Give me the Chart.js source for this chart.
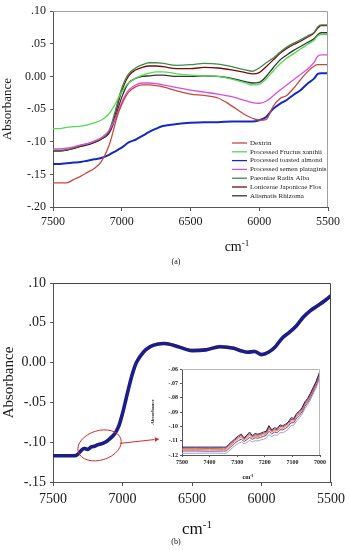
<!DOCTYPE html>
<html><head><meta charset="utf-8">
<script src="https://cdn.jsdelivr.net/npm/chart.js@4.4.0/dist/chart.umd.min.js"></script>
<style>
html,body{margin:0;padding:0;background:#fff;width:350px;height:550px;overflow:hidden;font-family:"Liberation Serif",serif;}
.box{position:absolute;}
.lbl{position:absolute;transform:translate(-50%,-50%);white-space:nowrap;color:#111;line-height:1;}
.sup{position:relative;top:-0.55em;font-size:0.65em;}
</style></head>
<body>
<div class="box" style="left:0;top:0;width:350px;height:270px"><canvas id="cA" width="350" height="270"></canvas></div>
<div class="box" style="left:0;top:270px;width:350px;height:280px"><canvas id="cB" width="350" height="280"></canvas></div>
<div class="box" style="left:150px;top:360px;width:185px;height:125px"><canvas id="cC" width="185" height="125"></canvas></div>
<div class="lbl" style="left:237px;top:247px;font-size:14px">cm<span class="sup">-1</span></div>
<div class="lbl" style="left:176px;top:262px;font-size:8px">(a)</div>
<div class="lbl" style="left:197px;top:528px;font-size:17px">cm<span class="sup">-1</span></div>
<div class="lbl" style="left:176px;top:542px;font-size:8px">(b)</div>
<div class="lbl" style="left:248px;top:477px;font-size:6px;font-weight:bold">cm<span class="sup">-1</span></div>
<script>
// ---------- Panel (a) data ----------
const xA = [7500,7450,7400,7350,7300,7250,7200,7150,7100,7075,7050,7025,7000,6975,6950,6900,6850,6800,6750,6700,6600,6500,6400,6300,6200,6100,6050,6000,5950,5900,5850,5800,5750,5700,5650,5600,5575,5550,5500];
const seriesNamesA = ['Dextrin','Processed Fructus xanthii','Processed toasted almond','Processed semen plataginis','Paeoniae Radix Alba','Lonicerae Japonicae Flos','Alismatis Rhizoma'];
const dextrin = [-0.163,-0.163,-0.163,-0.158,-0.153,-0.147,-0.141,-0.131,-0.110,-0.094,-0.074,-0.056,-0.043,-0.032,-0.024,-0.016,-0.013,-0.013,-0.014,-0.016,-0.022,-0.027,-0.029,-0.033,-0.045,-0.059,-0.064,-0.067,-0.066,-0.046,-0.034,-0.029,-0.018,-0.005,0.007,0.016,0.018,0.018,0.018];
const fructus = [-0.080,-0.080,-0.078,-0.077,-0.076,-0.074,-0.071,-0.067,-0.059,-0.052,-0.043,-0.033,-0.024,-0.016,-0.010,-0.003,0.002,0.005,0.007,0.007,0.004,0.002,0.001,0.000,-0.004,-0.010,-0.013,-0.012,-0.004,0.008,0.019,0.028,0.035,0.042,0.049,0.056,0.062,0.064,0.064];
const almond = [-0.134,-0.134,-0.133,-0.132,-0.131,-0.129,-0.127,-0.125,-0.121,-0.118,-0.115,-0.112,-0.109,-0.105,-0.101,-0.097,-0.091,-0.085,-0.080,-0.076,-0.073,-0.071,-0.070,-0.070,-0.069,-0.069,-0.069,-0.067,-0.062,-0.050,-0.042,-0.036,-0.028,-0.021,-0.011,-0.003,0.004,0.005,0.005];
const semen = [-0.111,-0.111,-0.110,-0.108,-0.105,-0.103,-0.099,-0.094,-0.085,-0.077,-0.066,-0.053,-0.040,-0.029,-0.021,-0.013,-0.010,-0.010,-0.011,-0.013,-0.017,-0.021,-0.024,-0.027,-0.031,-0.037,-0.040,-0.041,-0.038,-0.030,-0.021,-0.013,-0.005,0.003,0.011,0.022,0.031,0.033,0.033];
const paeoniae = [-0.113,-0.113,-0.112,-0.109,-0.106,-0.103,-0.100,-0.095,-0.086,-0.073,-0.055,-0.035,-0.018,-0.005,0.004,0.013,0.018,0.021,0.021,0.020,0.017,0.018,0.020,0.019,0.015,0.010,0.008,0.013,0.021,0.028,0.037,0.045,0.051,0.056,0.062,0.068,0.076,0.079,0.079];
const lonicerae = [-0.114,-0.114,-0.113,-0.110,-0.107,-0.104,-0.101,-0.096,-0.088,-0.077,-0.060,-0.040,-0.022,-0.009,0.001,0.010,0.014,0.016,0.016,0.015,0.012,0.012,0.014,0.013,0.010,0.006,0.004,0.006,0.015,0.025,0.035,0.043,0.049,0.054,0.060,0.067,0.074,0.078,0.078];
const alismatis = [-0.114,-0.114,-0.113,-0.110,-0.107,-0.105,-0.101,-0.096,-0.089,-0.080,-0.066,-0.048,-0.032,-0.019,-0.010,-0.003,0.000,0.001,0.002,0.002,0.000,0.000,0.001,0.000,-0.003,-0.008,-0.010,-0.009,0.000,0.013,0.025,0.033,0.040,0.046,0.052,0.058,0.064,0.067,0.067];
const yTicksA = [0.10,0.05,0,-0.05,-0.10,-0.15,-0.20];
const yLabelsA = ['.10','.05','0.00','-.05','-.10','-.15','-.20'];

// ---------- Panel (b) data ----------
const xB = [7500,7400,7340,7320,7300,7275,7250,7225,7200,7175,7150,7125,7100,7075,7050,7025,7000,6975,6950,6925,6900,6850,6800,6750,6700,6600,6500,6400,6300,6200,6150,6100,6050,6000,5950,5900,5850,5800,5750,5700,5650,5600,5550,5500];
const specB1 = [-0.117,-0.117,-0.117,-0.115,-0.111,-0.108,-0.109,-0.106,-0.105,-0.103,-0.102,-0.100,-0.097,-0.093,-0.088,-0.079,-0.064,-0.046,-0.028,-0.012,0.000,0.013,0.020,0.023,0.024,0.020,0.015,0.016,0.020,0.018,0.015,0.013,0.014,0.010,0.013,0.020,0.031,0.038,0.046,0.057,0.065,0.071,0.077,0.084];
const specB2 = [-0.1155,-0.1157,-0.1154,-0.1136,-0.1093,-0.1062,-0.1075,-0.1044,-0.1036,-0.1013,-0.1006,-0.0984,-0.0956,-0.0914,-0.0866,-0.0773,-0.0626,-0.0444,-0.0266,-0.0104,0.0016,0.0144,0.0216,0.0246,0.0254,0.0214,0.0166,0.0174,0.0216,0.0194,0.0166,0.0144,0.0156,0.0114,0.0146,0.0214,0.0326,0.0394,0.0476,0.0584,0.0666,0.0724,0.0786,0.0854];
const specB3 = [-0.1165,-0.1163,-0.1166,-0.1148,-0.1104,-0.1072,-0.1081,-0.1053,-0.1044,-0.1022,-0.1012,-0.0992,-0.0962,-0.0924,-0.0874,-0.0784,-0.0634,-0.0455,-0.0272,-0.0112,0.0008,0.0138,0.0208,0.0238,0.0249,0.0207,0.0157,0.0168,0.0206,0.0187,0.0156,0.0137,0.0146,0.0106,0.0137,0.0206,0.0316,0.0386,0.0466,0.0576,0.0656,0.0716,0.0776,0.0846];
const specB4 = [-0.1178,-0.1176,-0.1177,-0.1158,-0.1116,-0.1084,-0.1093,-0.1064,-0.1055,-0.1034,-0.1024,-0.1003,-0.0973,-0.0934,-0.0884,-0.0795,-0.0645,-0.0466,-0.0284,-0.0124,-0.0003,0.0127,0.0197,0.0227,0.0237,0.0196,0.0146,0.0156,0.0196,0.0176,0.0146,0.0126,0.0136,0.0096,0.0126,0.0196,0.0306,0.0376,0.0456,0.0566,0.0646,0.0706,0.0766,0.0836];
const yLabelsB = ['.10','.05','0.00','-.05','-.10','-.15'];
const yTicksB = [0.10,0.05,0,-0.05,-0.10,-0.15];

// ---------- Inset data ----------
const xC = [7500,7450,7400,7350,7340,7330,7310,7295,7285,7275,7265,7255,7245,7235,7225,7215,7205,7195,7185,7175,7165,7155,7145,7135,7125,7115,7105,7095,7085,7075,7065,7055,7045,7035,7025,7015,7005,7000];
const specC1 = [-0.1145,-0.1145,-0.1145,-0.1145,-0.1145,-0.1125,-0.1090,-0.1065,-0.1055,-0.1080,-0.1062,-0.1040,-0.1065,-0.1050,-0.1055,-0.1048,-0.1040,-0.1035,-0.0995,-0.1025,-0.1010,-0.1015,-0.0990,-0.0995,-0.0985,-0.0970,-0.0940,-0.0945,-0.0910,-0.0895,-0.0870,-0.0830,-0.0805,-0.0770,-0.0730,-0.0690,-0.0640,-0.0610];
const specC2 = [-0.1152,-0.1152,-0.1153,-0.1152,-0.1152,-0.1133,-0.1098,-0.1074,-0.1063,-0.1088,-0.1071,-0.1051,-0.1072,-0.1059,-0.1062,-0.1056,-0.1049,-0.1043,-0.1006,-0.1032,-0.1019,-0.1023,-0.0999,-0.1004,-0.0993,-0.0978,-0.0951,-0.0953,-0.0919,-0.0903,-0.0879,-0.0839,-0.0814,-0.0779,-0.0739,-0.0699,-0.0649,-0.0618];
const specC3 = [-0.1160,-0.1161,-0.1160,-0.1161,-0.1160,-0.1142,-0.1107,-0.1084,-0.1074,-0.1095,-0.1080,-0.1062,-0.1080,-0.1068,-0.1071,-0.1065,-0.1058,-0.1052,-0.1018,-0.1041,-0.1028,-0.1032,-0.1010,-0.1014,-0.1003,-0.0988,-0.0962,-0.0963,-0.0930,-0.0913,-0.0888,-0.0850,-0.0823,-0.0788,-0.0748,-0.0708,-0.0658,-0.0628];
const specC4 = [-0.1172,-0.1172,-0.1173,-0.1172,-0.1172,-0.1155,-0.1120,-0.1098,-0.1090,-0.1106,-0.1093,-0.1077,-0.1091,-0.1080,-0.1083,-0.1077,-0.1070,-0.1063,-0.1034,-0.1053,-0.1040,-0.1043,-0.1024,-0.1025,-0.1015,-0.1000,-0.0975,-0.0975,-0.0943,-0.0925,-0.0900,-0.0862,-0.0835,-0.0800,-0.0760,-0.0720,-0.0670,-0.0640];
const specC5 = [-0.1188,-0.1188,-0.1187,-0.1188,-0.1188,-0.1172,-0.1138,-0.1118,-0.1110,-0.1122,-0.1112,-0.1098,-0.1108,-0.1100,-0.1102,-0.1095,-0.1090,-0.1083,-0.1058,-0.1072,-0.1060,-0.1062,-0.1045,-0.1044,-0.1035,-0.1020,-0.0995,-0.0992,-0.0962,-0.0942,-0.0915,-0.0878,-0.0850,-0.0815,-0.0775,-0.0735,-0.0685,-0.0655];
const yLabelsC = ['-.12','-.11','-.10','-.09','-.08','-.07','-.06'];
const yTicksC = [-0.12,-0.11,-0.10,-0.09,-0.08,-0.07,-0.06];

// ---------- helpers ----------
Chart.defaults.font.family = '"Liberation Serif", "Times New Roman", serif';
Chart.defaults.color = '#1a1a1a';
const pts = (xs, ys) => xs.map((x, i) => ({x, y: ys[i]}));
const labelFor = (ticks, labels) => v => { const i = ticks.findIndex(t => Math.abs(t - v) < 1e-6); return i >= 0 ? labels[i] : ''; };

const framePlugin = {
  id: 'frame',
  afterDatasetsDraw(chart, args, opts) {
    const {ctx, chartArea: a} = chart;
    ctx.save();
    ctx.strokeStyle = opts.color || '#999';
    ctx.lineWidth = 1;
    ctx.beginPath();
    ctx.moveTo(a.left, Math.floor(a.top) + 0.5);
    ctx.lineTo(Math.floor(a.right) - 0.5, Math.floor(a.top) + 0.5);
    ctx.lineTo(Math.floor(a.right) - 0.5, a.bottom);
    ctx.stroke();
    ctx.restore();
  }
};

const legendPlugin = {
  id: 'insideLegend',
  afterDatasetsDraw(chart, args, opts) {
    if (!opts.show) return;
    const {ctx, chartArea: a} = chart;
    const x0 = a.right - 96, y0 = a.bottom - 64, step = 8.8;
    ctx.save();
    ctx.font = '7px "Liberation Serif", serif';
    ctx.textBaseline = 'middle';
    chart.data.datasets.forEach((d, i) => {
      const y = y0 + i * step;
      ctx.strokeStyle = d.borderColor; ctx.lineWidth = 1.3;
      ctx.beginPath(); ctx.moveTo(x0, y); ctx.lineTo(x0 + 15, y); ctx.stroke();
      ctx.fillStyle = '#222';
      ctx.fillText(d.label, x0 + 18, y);
    });
    ctx.restore();
  }
};

const markPlugin = {
  id: 'mark',
  afterDatasetsDraw(chart, args, opts) {
    if (!opts.show) return;
    const {ctx} = chart; const xs = chart.scales.x, ys = chart.scales.y;
    const cx = xs.getPixelForValue(opts.cx), cy = ys.getPixelForValue(opts.cy);
    const rx = Math.abs(xs.getPixelForValue(opts.cx + opts.dx) - cx);
    const ry = Math.abs(ys.getPixelForValue(opts.cy + opts.dy) - cy);
    ctx.save();
    ctx.strokeStyle = '#d42a2a'; ctx.fillStyle = '#d42a2a'; ctx.lineWidth = 1;
    ctx.beginPath(); ctx.ellipse(cx, cy, rx, ry, opts.angle, 0, Math.PI * 2); ctx.stroke();
    const sx = xs.getPixelForValue(opts.from[0]), sy = ys.getPixelForValue(opts.from[1]);
    const ex = xs.getPixelForValue(opts.to[0]), ey = ys.getPixelForValue(opts.to[1]);
    const ang = Math.atan2(ey - sy, ex - sx), hl = 5;
    ctx.beginPath(); ctx.moveTo(sx, sy); ctx.lineTo(ex - hl * Math.cos(ang), ey - hl * Math.sin(ang)); ctx.stroke();
    ctx.beginPath();
    ctx.moveTo(ex, ey);
    ctx.lineTo(ex - hl * Math.cos(ang - 0.45), ey - hl * Math.sin(ang - 0.45));
    ctx.lineTo(ex - hl * Math.cos(ang + 0.45), ey - hl * Math.sin(ang + 0.45));
    ctx.closePath(); ctx.fill();
    ctx.restore();
  }
};
Chart.register(framePlugin, legendPlugin, markPlugin);

function axisX(min, max, step, fontSize, height, tickLen, pad, bold) {
  return {
    type: 'linear', reverse: true, min, max,
    ticks: {stepSize: step, font: {size: fontSize, weight: bold ? 'bold' : 'normal'}, padding: pad, maxRotation: 0, autoSkip: false, color: '#1a1a1a', callback: v => String(v)},
    grid: {drawOnChartArea: false, drawTicks: true, tickLength: tickLen, color: '#555'},
    border: {display: true, color: '#555'},
    afterFit: s => { s.height = height; }
  };
}
function axisY(min, max, step, ticks, labels, fontSize, width, titleSize, tickLen, pad, bold) {
  return {
    min, max,
    ticks: {stepSize: step, font: {size: fontSize, weight: bold ? 'bold' : 'normal'}, padding: pad, color: '#1a1a1a', callback: labelFor(ticks, labels)},
    grid: {drawOnChartArea: false, drawTicks: true, tickLength: tickLen, color: '#555'},
    border: {display: true, color: '#555'},
    title: {display: true, text: 'Absorbance', font: {size: titleSize, weight: bold ? 'bold' : 'normal'}, padding: {top: 0, bottom: 0}, color: '#1a1a1a'},
    afterFit: s => { s.width = width; }
  };
}

// ---------- Chart (a) ----------
const colorsA = ['#c9473f', '#4fdc4f', '#1428c8', '#dc4cdc', '#3f8a4f', '#7a0a0a', '#333333'];
const dataA = [dextrin, fructus, almond, semen, paeoniae, lonicerae, alismatis];
new Chart(document.getElementById('cA'), {
  type: 'line',
  data: {datasets: dataA.map((ys, i) => ({
    label: seriesNamesA[i], data: pts(xA, ys), borderColor: colorsA[i],
    borderWidth: i === 2 ? 2 : 1.3, pointRadius: 0, cubicInterpolationMode: 'monotone', fill: false
  }))},
  options: {
    responsive: false, animation: false, events: [],
    layout: {padding: {top: 10, right: 22, left: 0, bottom: 0}},
    plugins: {legend: {display: false}, tooltip: {enabled: false}, frame: {color: '#a0a0a0'}, insideLegend: {show: true}, mark: {show: false}},
    scales: {
      x: axisX(5500, 7500, 500, 12, 63, 4, 4),
      y: axisY(-0.2, 0.1, 0.05, yTicksA, yLabelsA, 12, 53, 13, 3, 4)
    }
  }
});

// ---------- Chart (b) ----------
const colorsB = ['#1c1c8a', '#e0b020', '#3cb043', '#d23a3a'];
const widthsB = [3.6, 1.2, 1.2, 1.2];
const dataB = [specB1, specB2, specB3, specB4];
new Chart(document.getElementById('cB'), {
  type: 'line',
  data: {datasets: dataB.map((ys, i) => ({
    label: 'spectrum ' + (i + 1), data: pts(xB, ys), borderColor: colorsB[i],
    borderWidth: widthsB[i], pointRadius: 0, cubicInterpolationMode: 'monotone', fill: false
  }))},
  options: {
    responsive: false, animation: false, events: [],
    layout: {padding: {top: 13, right: 17, left: 0, bottom: 0}},
    plugins: {legend: {display: false}, tooltip: {enabled: false}, frame: {color: '#444'}, insideLegend: {show: false},
      mark: {show: true, cx: 7165, cy: -0.104, dx: 160, dy: 0.0185, angle: -0.3, from: [7018, -0.1015], to: [6735, -0.0960]}},
    scales: {
      x: axisX(5500, 7500, 500, 14, 68, 4, 5),
      y: axisY(-0.15, 0.10, 0.05, yTicksB, yLabelsB, 14, 53, 15, 3, 4)
    }
  }
});

// ---------- Inset ----------
const colorsC = ['#1c1c8a', '#c0392b', '#e08a20', '#7a3aa0', '#a0a0c8'];
const dataC = [specC1, specC2, specC3, specC4, specC5];
new Chart(document.getElementById('cC'), {
  type: 'line',
  data: {datasets: dataC.map((ys, i) => ({
    label: 'inset ' + (i + 1), data: pts(xC, ys), borderColor: colorsC[i],
    borderWidth: 1, pointRadius: 0, tension: 0, fill: false
  }))},
  options: {
    responsive: false, animation: false, events: [],
    layout: {padding: {top: 9, right: 15, left: 0, bottom: 0}},
    plugins: {legend: {display: false}, tooltip: {enabled: false}, frame: {color: '#b8b8b8'}, insideLegend: {show: false}, mark: {show: false}},
    scales: {
      x: axisX(7000, 7500, 100, 6, 30, 2, 2, true),
      y: axisY(-0.12, -0.06, 0.01, yTicksC, yLabelsC, 6, 32, 5, 2, 2, true)
    }
  }
});
</script>
</body></html>
